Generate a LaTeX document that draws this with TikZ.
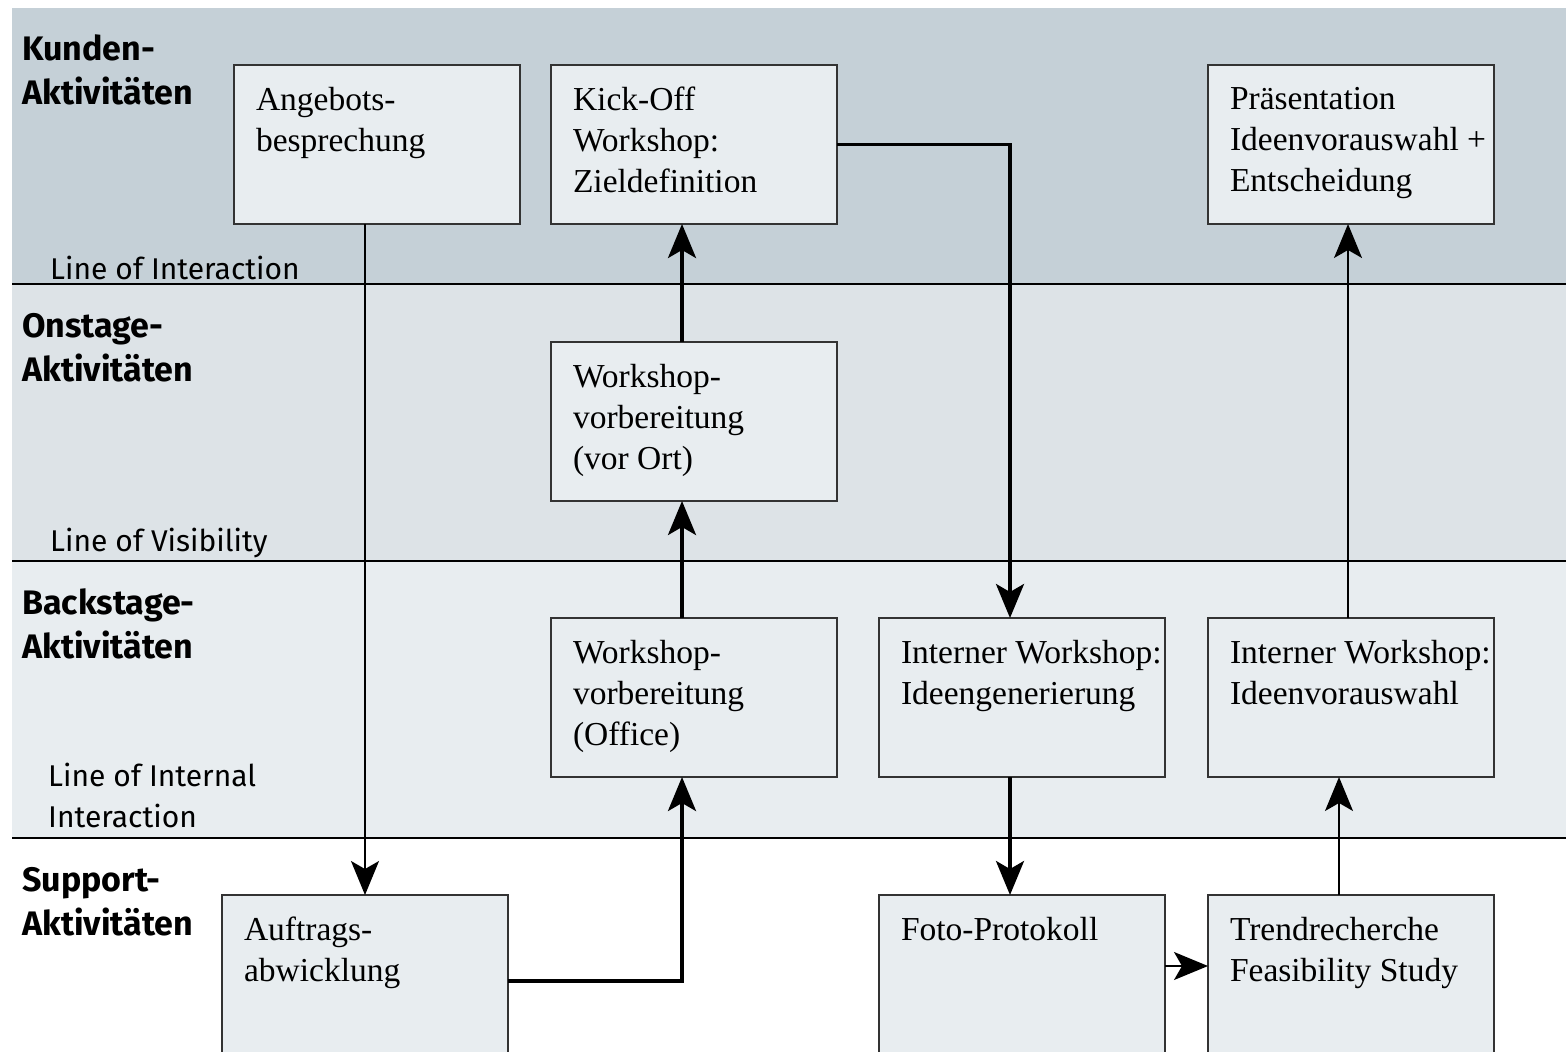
\documentclass[tikz,border=0pt]{standalone}
\usepackage{fontspec}
\setmainfont{Liberation Serif}
\newfontfamily\lblfont{Fira Sans}
\usetikzlibrary{arrows.meta}
\definecolor{bandA}{HTML}{C5D0D7}
\definecolor{bandB}{HTML}{DDE3E7}
\definecolor{bandC}{HTML}{E8EDF0}
\definecolor{boxfill}{HTML}{E8EDF0}
\definecolor{boxline}{HTML}{333333}
\newcommand{\bx}[2][159]{\parbox[c][#1pt][t]{286pt}{\raggedright\leftskip=22pt\relax\fontsize{33.5}{41}\selectfont\vspace*{22pt}#2}}
\begin{document}
\begin{tikzpicture}[x=1pt,y=-1pt,
  blk/.style={draw=boxline,line width=1.5pt,fill=boxfill,inner sep=0pt,outer sep=0pt,anchor=north west},
  sepline/.style={line width=1.5pt,black},
  lanelbl/.style={font=\lblfont\bfseries\fontsize{34}{44}\selectfont,anchor=base west,inner sep=0pt,align=left},
  linelbl/.style={font=\lblfont\fontsize{30}{41}\selectfont,anchor=base west,inner sep=0pt,align=left},
  thickarr/.style={line width=3.5pt,-{Stealth[length=34pt,width=28pt,inset=8pt]}},
  thinarr/.style={line width=1.5pt,-{Stealth[length=34pt,width=28pt,inset=8pt]}}
]
\useasboundingbox (0,0) rectangle (1566,1052);
\clip (0,0) rectangle (1566,1052);
\fill[white] (0,0) rectangle (1566,1052);
\fill[bandA] (12,8) rectangle (1566,284);
\fill[bandB] (12,284) rectangle (1566,561);
\fill[bandC] (12,561) rectangle (1566,838);
\draw[sepline] (12,284) -- (1566,284);
\draw[sepline] (12,561) -- (1566,561);
\draw[sepline] (12,838) -- (1566,838);

\node[lanelbl] (l1) at (22,104) {Kunden-\\Aktivitäten};
\node[lanelbl] (l2) at (22,381) {Onstage-\\Aktivitäten};
\node[lanelbl] (l3) at (22,658) {Backstage-\\Aktivitäten};
\node[lanelbl] (l4) at (22,935) {Support-\\Aktivitäten};

\node[linelbl] (i1) at (50,279) {Line of Interaction};
\node[linelbl] (i2) at (50,551) {Line of Visibility};
\node[linelbl] (i3) at (48,827) {Line of Internal\\Interaction};

\node[blk] (angebot) at (234,65) {\bx{Angebots-\\besprechung}};
\node[blk] (kick) at (551,65) {\bx{Kick-Off\\Workshop:\\Zieldefinition}};
\node[blk] (praes) at (1208,65) {\bx{Präsentation\\Ideenvorauswahl +\\Entscheidung}};
\node[blk] (vorort) at (551,342) {\bx{Workshop-\\vorbereitung\\(vor Ort)}};
\node[blk] (office) at (551,618) {\bx{Workshop-\\vorbereitung\\(Office)}};
\node[blk] (ideen) at (879,618) {\bx{Interner Workshop:\\Ideengenerierung}};
\node[blk] (auswahl) at (1208,618) {\bx{Interner Workshop:\\Ideenvorauswahl}};
\node[blk] (auftrag) at (222,895) {\bx[172]{Auftrags-\\abwicklung}};
\node[blk] (foto) at (879,895) {\bx[172]{Foto-Protokoll}};
\node[blk] (trend) at (1208,895) {\bx[172]{Trendrecherche\\Feasibility Study}};

\draw[thinarr] (auftrag.north |- angebot.south) -- (auftrag.north);
\draw[thickarr] (auftrag.east) -| ([xshift=-12pt]office.south);
\draw[thickarr] ([xshift=-12pt]office.north) -- ([xshift=-12pt]vorort.south);
\draw[thickarr] ([xshift=-12pt]vorort.north) -- ([xshift=-12pt]kick.south);
\draw[thickarr] (kick.east) -| ([xshift=-12pt]ideen.north);
\draw[thickarr] ([xshift=-12pt]ideen.south) -- ([xshift=-12pt]foto.north);
\draw[thinarr] ([yshift=15pt]foto.east) -- ([yshift=15pt]trend.west);
\draw[thinarr] ([xshift=-12pt]trend.north) -- ([xshift=-12pt]auswahl.south);
\draw[thinarr] ([xshift=-3pt]auswahl.north) -- ([xshift=-3pt]praes.south);
\end{tikzpicture}
\end{document}
